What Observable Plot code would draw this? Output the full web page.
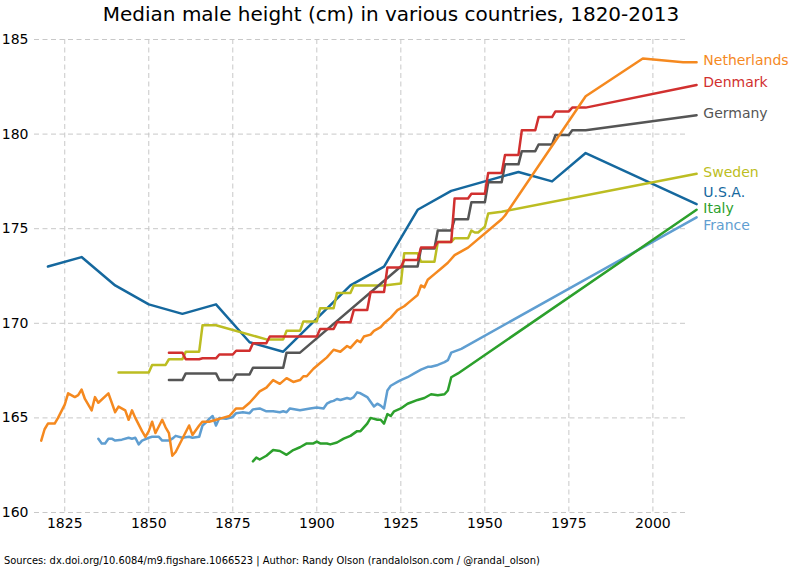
<!DOCTYPE html>
<html>
<head>
<meta charset="utf-8">
<script src="https://cdn.jsdelivr.net/npm/d3@7"></script>
<script src="https://cdn.jsdelivr.net/npm/@observablehq/plot@0.6"></script>
<style>
  html, body { margin: 0; padding: 0; background: #fff; }
  #title { width: 782px; height: 28px; line-height: 28px; text-align: center;
           font-family: "DejaVu Sans", sans-serif; font-size: 20px; color: #000; }
  #caption { height: 22px; line-height: 22px; padding-left: 4px;
             font-family: "DejaVu Sans Condensed", "DejaVu Sans", sans-serif; font-stretch: condensed;
             font-size: 11px; color: #000; }
</style>
</head>
<body>
<div id="title">Median male height (cm) in various countries, 1820-2013</div>
<div id="chart"></div>
<div id="caption">Sources: dx.doi.org/10.6084/m9.figshare.1066523 | Author: Randy Olson (randalolson.com / @randal_olson)</div>
<script>
// ---- data ----
const countries = ["U.S.A.", "Sweden", "Germany", "Denmark", "France", "Italy", "Netherlands"];
const colors    = ["#15689e", "#bcbd22", "#555555", "#d1302f", "#5f9ed1", "#2ca02c", "#f5891f"];

const usaYear   = [1820,1830,1840,1850,1860,1870,1880,1890,1910,1920,1930,1940,1960,1970,1980,2013];
const usaHeight = [173.0,173.5,172.0,171.0,170.5,171.0,169.0,168.5,172.0,173.0,176.0,177.0,178.0,177.5,179.0,176.3];

const swedenYear   = [1841,1850,1851,1855,1856,1860,1861,1865,1866,1870,1885,1890,1891,1895,1896,1900,1901,1905,1906,1910,1911,1920,1925,1926,1930,1931,1935,1936,1940,1941,1945,1946,1947,1948,1950,1951,1955,2013];
const swedenHeight = [167.4,167.4,167.8,167.8,168.1,168.1,168.5,168.5,169.9,169.9,169.15,169.15,169.6,169.6,170.1,170.1,170.8,170.8,171.6,171.6,172.0,172.0,172.1,173.7,173.7,173.25,173.25,174.3,174.3,174.5,174.5,174.9,174.8,174.8,175.1,175.8,175.9,177.9];

const germanyYear   = [1856,1860,1861,1870,1871,1875,1876,1880,1881,1890,1891,1895,1925,1930,1931,1935,1936,1940,1941,1945,1946,1950,1951,1955,1956,1960,1961,1965,1966,1970,1971,1975,1976,1980,2013];
const germanyHeight = [167.0,167.0,167.35,167.35,167.0,167.0,167.3,167.3,167.65,167.65,168.45,168.45,173.0,173.0,173.95,173.95,174.9,174.9,175.5,175.5,176.4,176.4,177.45,177.45,178.4,178.4,179.1,179.1,179.45,179.45,179.95,179.95,180.2,180.2,181.0];

const denmarkYear   = [1856,1860,1861,1865,1866,1870,1871,1875,1876,1880,1881,1885,1886,1900,1901,1905,1906,1910,1911,1915,1916,1920,1921,1925,1926,1930,1931,1935,1936,1940,1941,1945,1946,1950,1951,1955,1956,1960,1961,1965,1966,1970,1971,1975,1976,1980,2013];
const denmarkHeight = [168.45,168.45,168.1,168.1,168.15,168.15,168.35,168.35,168.55,168.55,168.95,168.95,169.3,169.3,169.7,169.7,170.05,170.05,170.7,170.7,171.65,171.65,172.95,172.95,173.35,173.35,174.0,174.0,174.3,174.3,176.6,176.6,176.85,176.85,177.95,177.95,178.9,178.9,180.2,180.2,180.9,180.9,181.2,181.2,181.4,181.4,182.6];

const franceYear   = [1835,1836,1837,1838,1839,1840,1842,1844,1845,1846,1847,1848,1850,1851,1853,1854,1856,1857,1858,1860,1862,1863,1865,1866,1867,1868,1869,1870,1871,1873,1875,1876,1878,1880,1881,1883,1885,1887,1889,1890,1891,1892,1895,1898,1900,1902,1903,1904,1905,1906,1907,1909,1910,1911,1912,1913,1915,1916,1917,1918,1919,1920,1921,1922,1924,1925,1927,1929,1931,1933,1934,1936,1938,1939,1940,1943,2013];
const franceHeight = [163.9,163.65,163.65,163.9,163.9,163.8,163.85,163.95,163.9,163.95,163.6,163.8,163.95,164.0,164.0,163.8,163.8,163.9,164.05,163.95,164.0,163.95,164.0,164.6,164.75,164.95,165.1,164.6,165.0,164.95,165.05,165.25,165.3,165.25,165.45,165.5,165.35,165.35,165.3,165.35,165.3,165.5,165.4,165.5,165.55,165.5,165.75,165.85,165.9,166.0,165.95,166.05,166.0,166.1,166.35,166.3,166.1,165.85,165.6,165.75,165.65,165.5,166.45,166.7,166.9,167.0,167.15,167.35,167.55,167.7,167.7,167.8,167.95,168.05,168.45,168.65,175.6];

const italyYear   = [1881,1882,1883,1885,1887,1889,1891,1893,1895,1897,1899,1900,1901,1903,1904,1906,1908,1910,1912,1913,1914,1915,1916,1918,1919,1920,1921,1922,1923,1925,1927,1930,1932,1934,1936,1938,1939,1940,1942,2013];
const italyHeight = [162.7,162.9,162.8,163.0,163.3,163.25,163.05,163.3,163.45,163.65,163.65,163.75,163.65,163.65,163.6,163.7,163.9,164.05,164.3,164.3,164.5,164.7,165.0,164.9,164.9,164.7,165.2,165.1,165.35,165.5,165.75,165.95,166.05,166.25,166.2,166.25,166.45,167.15,167.35,176.0];

const netherlandsYear   = [1818,1819,1820,1822,1823,1825,1826,1828,1829,1830,1831,1833,1834,1835,1838,1840,1841,1843,1844,1845,1846,1848,1849,1850,1851,1852,1854,1855,1856,1857,1858,1860,1862,1863,1865,1866,1868,1870,1872,1874,1876,1878,1880,1883,1885,1887,1889,1891,1893,1895,1896,1897,1899,1901,1903,1905,1907,1909,1910,1912,1913,1914,1916,1917,1919,1920,1922,1924,1926,1928,1930,1931,1932,1933,1935,1937,1939,1941,1945,1955,1956,1980,1997,2009,2013];
const netherlandsHeight = [163.8,164.4,164.7,164.7,165.0,165.7,166.3,166.1,166.2,166.5,166.0,165.4,166.1,165.8,166.3,165.3,165.6,165.4,164.9,165.4,165.0,164.3,164.0,164.3,164.8,164.2,164.9,164.5,164.2,163.0,163.2,163.9,164.6,164.1,164.6,164.8,164.8,164.9,165.0,165.1,165.5,165.5,165.8,166.4,166.6,167.0,166.8,167.1,166.9,167.0,167.2,167.2,167.6,167.9,168.2,168.6,168.5,168.8,168.7,169.1,169.0,169.3,169.4,169.6,169.8,170.0,170.3,170.7,170.9,171.2,171.5,172.0,171.9,172.3,172.6,172.9,173.2,173.6,174.0,175.5,175.7,182.0,184.0,183.8,183.8];

// label anchor heights (cm) at the right end
const labelNames   = ["Netherlands", "Denmark", "Germany", "Sweden", "U.S.A.", "Italy", "France"];
const labelHeights = [183.89, 182.72, 181.10, 177.97, 176.91, 176.08, 175.17];

const xTicks = [1825, 1850, 1875, 1900, 1925, 1950, 1975, 2000];
const yTicks = [160, 165, 170, 175, 180, 185];

// ---- build tables ----
const series = {
  "U.S.A.": [usaYear, usaHeight],
  "Sweden": [swedenYear, swedenHeight],
  "Germany": [germanyYear, germanyHeight],
  "Denmark": [denmarkYear, denmarkHeight],
  "France": [franceYear, franceHeight],
  "Italy": [italyYear, italyHeight],
  "Netherlands": [netherlandsYear, netherlandsHeight]
};
const rows = countries.flatMap(c => series[c][0].map((yr, i) => ({country: c, year: yr, height: series[c][1][i]})));
const labels = labelNames.map((n, i) => ({country: n, height: labelHeights[i]}));

const chart = Plot.plot({
  width: 794,
  height: 522,
  marginTop: 11,
  marginBottom: 38,
  marginLeft: 34,
  marginRight: 108,
  style: {fontFamily: "DejaVu Sans, sans-serif", fontSize: "14px", color: "#000", background: "#fff", overflow: "visible"},
  x: {domain: [1816, 2010], ticks: xTicks},
  y: {domain: [160, 185], ticks: yTicks},
  color: {domain: countries, range: colors},
  marks: [
    Plot.gridX(xTicks, {stroke: "#c8c8c8", strokeOpacity: 1, strokeDasharray: "5,3.5", strokeWidth: 1}),
    Plot.gridY(yTicks, {stroke: "#c8c8c8", strokeOpacity: 1, strokeDasharray: "5,3.5", strokeWidth: 1}),
    Plot.axisX(xTicks, {tickSize: 0, tickPadding: 6, fontSize: 14, tickFormat: d => String(d), label: null}),
    Plot.axisY(yTicks, {tickSize: 0, tickPadding: 6, fontSize: 14, label: null}),
    Plot.line(rows, {x: "year", y: "height", z: "country", stroke: "country", strokeWidth: 2.5, strokeLinejoin: "round", strokeLinecap: "round"}),
    Plot.text(labels, {x: 2015, y: "height", text: "country", fill: "country", textAnchor: "start", lineAnchor: "middle", fontSize: 14})
  ]
});
document.getElementById("chart").appendChild(chart);
</script>
</body>
</html>
